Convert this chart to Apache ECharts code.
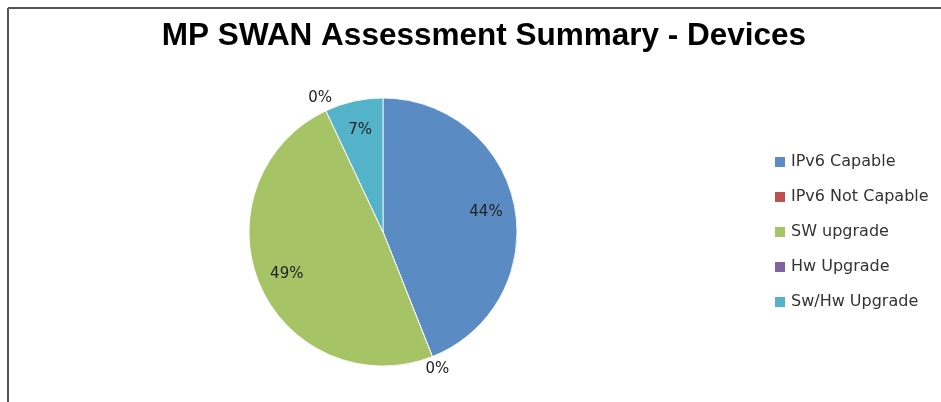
<!DOCTYPE html>
<html>
<head>
<meta charset="utf-8">
<script src="https://cdn.jsdelivr.net/npm/echarts@6/dist/echarts.min.js"></script>
<style>
  html, body { margin: 0; padding: 0; background: #fff; }
  #chart { width: 941px; height: 402px; }
</style>
</head>
<body>
<div id="chart"></div>
<script>
// slices, clockwise from 12 o'clock
const categories = ['IPv6 Capable', 'IPv6 Not Capable', 'SW upgrade', 'Hw Upgrade', 'Sw/Hw Upgrade'];
const values = [44, 0, 49, 0, 7];
const colors = ['#5a8bc3', '#c0504d', '#a6c365', '#8064a2', '#55b3c9'];

const R = 134; // pie radius in px
const center = [383, 232];

const pctLabel = (p) => Math.round(p.percent) + '%';

const pieData = categories.map((name, i) => ({
  name,
  value: values[i],
  itemStyle: { color: colors[i] },
}));

// transparent rings that only carry the labels
const labelData = (showZero) => categories.map((name, i) => ({
  name,
  value: values[i],
  label: { show: showZero ? values[i] === 0 : values[i] !== 0 },
}));

const labelStyle = {
  position: 'inside',
  formatter: pctLabel,
  fontFamily: 'DejaVu Sans',
  fontSize: 15,
  color: '#222',
};

const myChart = echarts.init(document.getElementById('chart'));
myChart.setOption({
  animation: false,
  title: {
    text: 'MP SWAN Assessment Summary - Devices',
    left: 479,
    textAlign: 'center',
    top: 15,
    textStyle: {
      fontFamily: 'Liberation Sans',
      fontSize: 31.5,
      fontWeight: 'bold',
      color: '#000',
    },
  },
  legend: {
    orient: 'vertical',
    left: 773,
    top: 154,
    padding: 0,
    itemWidth: 12,
    itemHeight: 12,
    itemGap: 19,
    icon: 'rect',
    data: categories,
    selectedMode: false,
    textStyle: { fontFamily: 'DejaVu Sans', fontSize: 16, color: '#333', padding: [0, 0, 0, 0] },
  },
  graphic: [
    { type: 'line', shape: { x1: 8, y1: 8, x2: 941, y2: 8 }, style: { stroke: '#555', lineWidth: 2 } },
    { type: 'line', shape: { x1: 8, y1: 8, x2: 8, y2: 402 }, style: { stroke: '#555', lineWidth: 2 } },
  ],
  series: [
    {
      type: 'pie',
      center,
      radius: [0, R],
      startAngle: 90,
      silent: true,
      label: { show: false },
      labelLine: { show: false },
      itemStyle: { borderColor: '#fff', borderWidth: 0.8 },
      data: pieData,
    },
    {
      type: 'pie',
      center,
      radius: [R * 0.52, R],
      startAngle: 90,
      silent: true,
      itemStyle: { color: 'rgba(0,0,0,0)' },
      label: labelStyle,
      labelLine: { show: false },
      data: labelData(false),
    },
    {
      type: 'pie',
      center,
      radius: [R, R * 1.16],
      startAngle: 90,
      silent: true,
      itemStyle: { color: 'rgba(0,0,0,0)' },
      label: labelStyle,
      labelLine: { show: false },
      data: labelData(true),
    },
  ],
});
</script>
</body>
</html>
